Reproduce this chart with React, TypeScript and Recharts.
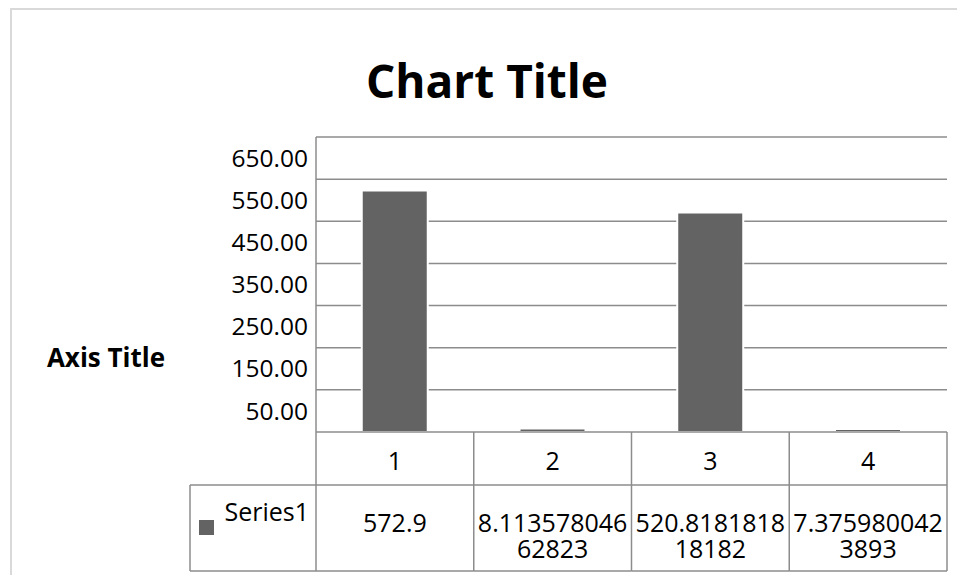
import React from "react";
import { BarChart, Bar, XAxis, YAxis, CartesianGrid } from "recharts";

const categories = ["1", "2", "3", "4"];
const series1Values = [572.9, 8.11357804662823, 520.818181818182, 7.3759800423893];
const seriesName = "Series1";
const yTicks = [50, 150, 250, 350, 450, 550, 650];
const gridValues = [100, 200, 300, 400, 500, 600, 700];
const chartTitle = "Chart Title";
const axisTitle = "Axis Title";

const data = categories.map((c, i) => ({ cat: c, value: series1Values[i] }));

const FONT = "'Open Sans', 'Noto Sans', sans-serif";
const LINE = "#8c8c8c";
const BAR = "#636363";

const wrapValue = (v: number, n: number) => {
  const s = String(v);
  const out: string[] = [];
  for (let i = 0; i < s.length; i += n) out.push(s.slice(i, i + n));
  return out;
};

const TableTick = (props: any) => {
  const { x, y, payload, index } = props;
  const half = payload && payload.offset ? payload.offset : 79;
  const left = x - half;
  const right = x + half;
  const top = y;
  const row1 = top + 53;
  const row2 = top + 139;
  const lines = wrapValue(series1Values[index], 11);
  return (
    <g>
      {index === 0 && (
        <g>
          <line x1={left} y1={top} x2={left} y2={row2} stroke={LINE} strokeWidth={1.5} />
          <line x1={left - 126} y1={row1} x2={left} y2={row1} stroke={LINE} strokeWidth={1.5} />
          <line x1={left - 126} y1={row2} x2={left} y2={row2} stroke={LINE} strokeWidth={1.5} />
          <line x1={left - 126} y1={row1} x2={left - 126} y2={row2} stroke={LINE} strokeWidth={1.5} />
          <rect x={left - 117} y={top + 88} width={15} height={15} fill={BAR} />
          <text x={left - 7} y={top + 89} textAnchor="end" fontFamily={FONT} fontSize={25} fill="#000">
            {seriesName}
          </text>
        </g>
      )}
      <line x1={right} y1={top} x2={right} y2={row2} stroke={LINE} strokeWidth={1.5} />
      <line x1={left} y1={row1} x2={right} y2={row1} stroke={LINE} strokeWidth={1.5} />
      <line x1={left} y1={row2} x2={right} y2={row2} stroke={LINE} strokeWidth={1.5} />
      <text x={x} y={top + 38} textAnchor="middle" fontFamily={FONT} fontSize={25} fill="#000">
        {payload.value}
      </text>
      {lines.map((l, i) => (
        <text key={i} x={x} y={top + 100 + i * 26} textAnchor="middle" fontFamily={FONT} fontSize={25} fill="#000">
          {l}
        </text>
      ))}
    </g>
  );
};

export default function App() {
  return (
    <div style={{ position: "absolute", left: 0, top: 0, width: 957, height: 575, overflow: "hidden", background: "#fff" }}>
      <div
        style={{
          position: "absolute",
          left: 10,
          top: 8,
          width: 1000,
          height: 1000,
          border: "2px solid #d9d9d9",
          boxSizing: "border-box",
        }}
      />
      <div
        style={{
          position: "absolute",
          left: 287,
          width: 400,
          top: 49,
          textAlign: "center",
          fontFamily: FONT,
          fontWeight: 700,
          fontSize: 46,
          lineHeight: "62px",
          color: "#000",
        }}
      >
        {chartTitle}
      </div>
      <div
        style={{
          position: "absolute",
          left: 6,
          width: 200,
          top: 339,
          textAlign: "center",
          fontFamily: FONT,
          fontWeight: 700,
          fontSize: 26,
          lineHeight: "36px",
          color: "#000",
        }}
      >
        {axisTitle}
      </div>
      <div style={{ position: "absolute", left: 0, top: 0 }}>
        <BarChart
          width={957}
          height={575}
          data={data}
          margin={{ top: 137, right: 10, bottom: 0, left: 216 }}
          barCategoryGap="29%"
        >
          <CartesianGrid horizontal={true} vertical={false} horizontalValues={gridValues} stroke={LINE} strokeWidth={1.5} />
          <XAxis
            dataKey="cat"
            height={143}
            axisLine={{ stroke: LINE, strokeWidth: 1.5 }}
            tickLine={false}
            tickSize={0}
            tickMargin={0}
            interval={0}
            tick={<TableTick />}
          />
          <YAxis
            width={100}
            domain={[0, 700]}
            ticks={yTicks}
            tickFormatter={(v: number) => v.toFixed(2)}
            axisLine={{ stroke: LINE, strokeWidth: 1.5 }}
            tickLine={false}
            tick={{ fontFamily: FONT, fontSize: 24.5, fill: "#000" }}
            allowDataOverflow={true}
          />
          <Bar dataKey="value" fill={BAR} stroke="#ffffff" strokeWidth={2} isAnimationActive={false} />
        </BarChart>
      </div>
    </div>
  );
}
